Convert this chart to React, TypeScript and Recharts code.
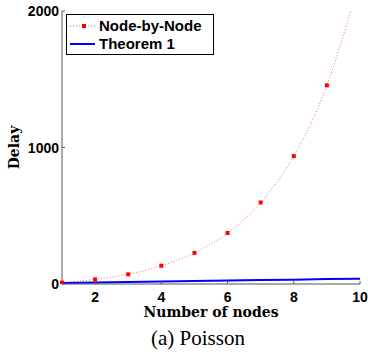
import React from 'react';
import { LineChart, Line, XAxis, YAxis, Legend } from 'recharts';

// number of nodes
const nodes = [1, 2, 3, 4, 5, 6, 7, 8, 9, 10];
// delay, Node-by-Node (last point is only there so the curve runs off the top)
const nodeByNode = [10, 34, 71, 134, 228, 374, 597, 937, 1455, 2240];
// delay, Theorem 1
const theorem1 = [8, 11, 15, 18, 22, 25, 29, 32, 36, 39];

const xTicks = [2, 4, 6, 8, 10];
const yTicks = [0, 1000, 2000];

const data = nodes.map((n, i) => ({ x: n, nbn: nodeByNode[i], thm: theorem1[i] }));

const sans = '"Liberation Sans", Arial, Helvetica, sans-serif';
const serif = '"DejaVu Serif", serif';
const axisColor = '#555';

const XTick = (props: any) => {
  const { x, y, payload } = props;
  return (
    <text
      x={x}
      y={y}
      dy={9}
      textAnchor="middle"
      fontFamily={sans}
      fontWeight="bold"
      fontSize={14}
      fill="#000"
      style={{ fontWeight: 700 }}
    >
      {payload.value}
    </text>
  );
};

const YTick = (props: any) => {
  const { x, y, payload } = props;
  return (
    <text
      x={x}
      y={y}
      dy={5}
      textAnchor="end"
      fontFamily={sans}
      fontWeight="bold"
      fontSize={14}
      fill="#000"
      style={{ fontWeight: 700 }}
    >
      {payload.value}
    </text>
  );
};

const SquareDot = (props: any) => {
  const { cx, cy, index } = props;
  if (index >= 9 || cx == null || cy == null) return <g key={`d${index}`} />;
  return <rect key={`d${index}`} x={cx - 2} y={cy - 2} width={4} height={4} fill="#ff0000" />;
};

const LegendBox = (props: any) => {
  const payload = props.payload || [];
  return (
    <div
      style={{
        width: 148,
        height: 41,
        boxSizing: 'border-box',
        border: '1.5px solid #000',
        background: '#fff',
        paddingTop: 2,
      }}
    >
      {payload.map((p: any) => (
        <div key={p.value} style={{ display: 'flex', alignItems: 'center', height: 18 }}>
          <svg width={32} height={18} style={{ flex: 'none' }}>
            {p.value === 'Node-by-Node' ? (
              <>
                <line x1={3} x2={28} y1={9} y2={9} stroke="#ff0000" strokeOpacity={0.6} strokeDasharray="1 2" />
                <rect x={15} y={7} width={4} height={4} fill="#ff0000" />
              </>
            ) : (
              <line x1={3} x2={28} y1={9} y2={9} stroke="#0000ff" strokeWidth={2} />
            )}
          </svg>
          <span style={{ fontFamily: sans, fontWeight: 700, fontSize: 15, color: '#000', lineHeight: '18px' }}>
            {p.value}
          </span>
        </div>
      ))}
    </div>
  );
};

export default function App() {
  return (
    <div style={{ position: 'absolute', left: 0, top: 0, width: 368, height: 356, background: '#fff' }}>
      <LineChart width={368} height={356} data={data} margin={{ top: 11, right: 8, bottom: 0, left: 0 }}>
        <XAxis
          dataKey="x"
          type="number"
          domain={[1, 10]}
          ticks={xTicks}
          height={72}
          tickSize={-3}
          tickMargin={12}
          tick={<XTick />}
          axisLine={{ stroke: axisColor }}
          tickLine={{ stroke: axisColor }}
          label={{
            content: (p: any) => {
              const vb = p.viewBox;
              return (
                <text
                  x={vb.x + vb.width / 2}
                  y={vb.y + 33}
                  textAnchor="middle"
                  style={{ fontFamily: serif, fontWeight: 700, fontSize: 14, fill: '#000' }}
                >
                  Number of nodes
                </text>
              );
            },
          }}
        />
        <YAxis
          type="number"
          domain={[0, 2000]}
          ticks={yTicks}
          allowDataOverflow
          width={62}
          tickSize={-3}
          tickMargin={6}
          tick={<YTick />}
          axisLine={{ stroke: axisColor }}
          tickLine={{ stroke: axisColor }}
          label={{
            content: (p: any) => {
              const vb = p.viewBox;
              const cx = vb.x + 19;
              const cy = vb.y + vb.height / 2;
              return (
                <text
                  x={cx}
                  y={cy}
                  transform={`rotate(-90 ${cx} ${cy})`}
                  textAnchor="middle"
                  style={{ fontFamily: serif, fontWeight: 700, fontSize: 14, fill: '#000' }}
                >
                  Delay
                </text>
              );
            },
          }}
        />
        <Legend
          layout="vertical"
          align="center"
          verticalAlign="middle"
          content={<LegendBox />}
          wrapperStyle={{ position: 'absolute', left: 66, top: 14, width: 148 }}
        />
        <Line
          name="Node-by-Node"
          dataKey="nbn"
          type="monotone"
          stroke="#ff0000"
          strokeOpacity={0.6}
          strokeWidth={1}
          strokeDasharray="1 2"
          dot={<SquareDot />}
          activeDot={false}
          isAnimationActive={false}
        />
        <Line
          name="Theorem 1"
          dataKey="thm"
          type="linear"
          stroke="#0000ff"
          strokeWidth={2}
          dot={false}
          activeDot={false}
          isAnimationActive={false}
        />
      </LineChart>
      <svg width={368} height={356} style={{ position: 'absolute', left: 0, top: 0, pointerEvents: 'none' }}>
        <text
          x={198}
          y={345}
          textAnchor="middle"
          style={{ fontFamily: '"Liberation Serif", "Times New Roman", serif', fontSize: 21, fill: '#000' }}
        >
          (a) Poisson
        </text>
      </svg>
    </div>
  );
}
